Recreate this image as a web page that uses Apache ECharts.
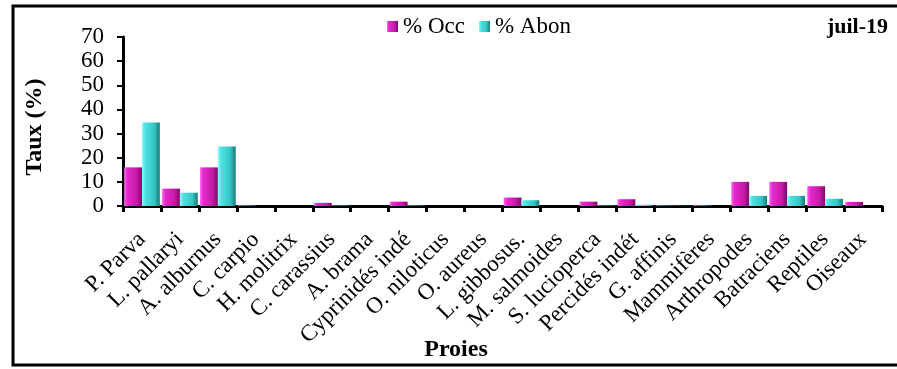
<!DOCTYPE html>
<html>
<head>
<meta charset="utf-8">
<script src="https://cdn.jsdelivr.net/npm/echarts@6.0.0/dist/echarts.min.js"></script>
<style>
html,body{margin:0;padding:0;background:#fff;}
#chart{width:897px;height:369px;}
</style>
</head>
<body>
<div id="chart"></div>
<script>
const categories = ['P. Parva','L. pallaryi','A. alburnus','C. carpio','H. molitrix','C. carassius','A. brama','Cyprinidés indé','O. niloticus','O. aureus','L. gibbosus.','M. salmoides','S. lucioperca','Percidés indét','G. affinis','Mammifères','Arthropodes','Batraciens','Reptiles','Oiseaux'];
const occValues = [16, 7.2, 16, 0.4, 0, 1.3, 0, 1.8, 0, 0, 3.5, 0, 1.8, 2.8, 0.3, 0.4, 10, 10, 8.2, 1.7];
const abonValues = [34.6, 5.5, 24.6, 0, 0, 0.2, 0, 0.2, 0, 0, 2.4, 0, 0.2, 0.5, 0.1, 0, 4.2, 4.2, 3, 0];
const seriesNames = ['% Occ', '% Abon'];
const yTicks = { min: 0, max: 70, interval: 10 };

const FONT = 'Liberation Serif';
function grad(c0, c1, c2, c3) {
  return new echarts.graphic.LinearGradient(0, 0, 1, 0, [
    { offset: 0, color: c0 },
    { offset: 0.18, color: c1 },
    { offset: 0.7, color: c2 },
    { offset: 1, color: c3 }
  ]);
}
const pink = grad('#ff66f0', '#e42acb', '#c51aa8', '#7a0a66');
const cyan = grad('#8cfcfc', '#4fe2e2', '#35c4c4', '#187878');

const chart = echarts.init(document.getElementById('chart'), null, { renderer: 'canvas' });
chart.setOption({
  animation: false,
  backgroundColor: '#fff',
  title: {
    text: 'juil-19',
    right: 4,
    top: 11,
    textStyle: { fontFamily: FONT, fontSize: 22, fontWeight: 'bold', color: '#000' }
  },
  legend: {
    data: seriesNames,
    left: 382,
    top: 10,
    icon: 'rect',
    itemWidth: 11,
    itemHeight: 11,
    itemGap: 14,
    textStyle: { fontFamily: FONT, fontSize: 23, color: '#000', padding: [0, 0, 0, 0] }
  },
  grid: { left: 123, right: 15, top: 37, bottom: 163 },
  xAxis: {
    type: 'category',
    data: categories,
    boundaryGap: true,
    axisLine: { lineStyle: { color: '#000', width: 3 } },
    axisTick: { show: true, length: 6, lineStyle: { color: '#000', width: 3 } },
    axisLabel: {
      interval: 0,
      rotate: 45,
      margin: 30,
      fontFamily: FONT,
      fontSize: 23,
      color: '#000',
      hideOverlap: false
    },
    splitLine: { show: false }
  },
  yAxis: {
    type: 'value',
    min: yTicks.min,
    max: yTicks.max,
    interval: yTicks.interval,
    axisLine: { show: true, lineStyle: { color: '#000', width: 3 } },
    axisTick: { show: true, length: 6, lineStyle: { color: '#000', width: 2 } },
    axisLabel: {
      margin: 19, fontFamily: FONT, fontSize: 23, color: '#000',
      showMinLabel: true, showMaxLabel: true, hideOverlap: false
    },
    splitLine: { show: false }
  },
  graphic: [
    {
      type: 'rect',
      shape: { x: 13, y: 6, width: 900, height: 359 },
      style: { fill: 'none', stroke: '#000', lineWidth: 3 },
      silent: true
    },
    {
      type: 'text',
      x: 456,
      y: 350,
      style: {
        text: 'Proies',
        font: 'bold 24px "Liberation Serif"',
        fill: '#000',
        textAlign: 'center',
        textVerticalAlign: 'middle'
      }
    },
    {
      type: 'text',
      x: 35,
      y: 127,
      rotation: Math.PI / 2,
      style: {
        text: 'Taux (%)',
        font: 'bold 24px "Liberation Serif"',
        fill: '#000',
        textAlign: 'center',
        textVerticalAlign: 'middle'
      }
    }
  ],
  series: [
    {
      name: seriesNames[0],
      type: 'bar',
      data: occValues,
      barGap: '0%',
      barCategoryGap: '6%',
      itemStyle: { color: pink }
    },
    {
      name: seriesNames[1],
      type: 'bar',
      data: abonValues,
      barGap: '0%',
      barCategoryGap: '6%',
      itemStyle: { color: cyan }
    }
  ]
});
</script>
</body>
</html>
